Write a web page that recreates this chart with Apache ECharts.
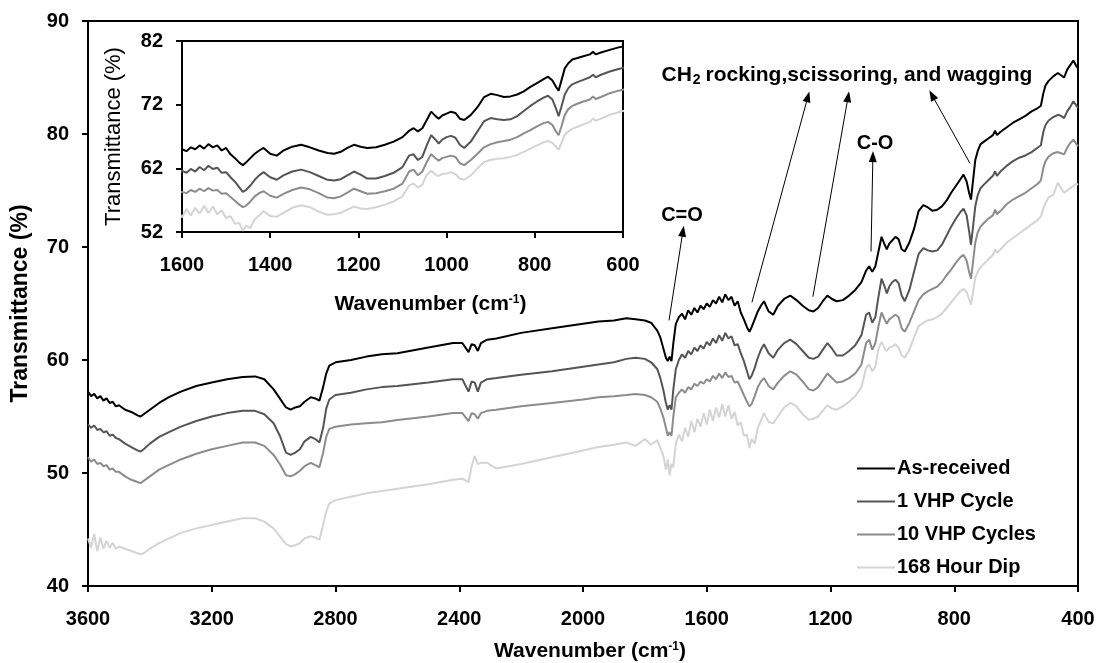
<!DOCTYPE html>
<html>
<head>
<meta charset="utf-8">
<title>FTIR spectra</title>
<script src="https://cdn.jsdelivr.net/npm/echarts@6/dist/echarts.min.js"></script>
<style>
  html, body { margin: 0; padding: 0; background: #fff; }
  #chart { width: 1100px; height: 663px; }
</style>
</head>
<body>
<div id="chart"></div>
<script>
// Wavenumber grid (cm-1), shared by all four spectra
const wavenumbers = [
  3600,3590,3580,3570,3560,3550,3540,3530,3520,3510,
  3500,3480,3460,3440,3430,3420,3400,3370,3340,3300,
  3250,3200,3150,3100,3060,3030,3000,2980,2960,2945,
  2930,2915,2900,2880,2865,2852,2840,2830,2820,2800,
  2750,2700,2650,2600,2500,2420,2390,2370,2360,2350,
  2340,2330,2310,2280,2200,2100,2000,1950,1900,1860,
  1830,1800,1780,1760,1750,1740,1732,1726,1720,1714,
  1708,1700,1690,1680,1670,1660,1650,1640,1630,1620,
  1610,1600,1590,1580,1570,1560,1550,1540,1530,1520,
  1510,1500,1490,1480,1470,1462,1455,1445,1435,1425,
  1415,1400,1385,1370,1350,1330,1310,1290,1270,1255,
  1240,1225,1210,1195,1180,1160,1140,1120,1100,1085,
  1075,1065,1055,1045,1035,1025,1018,1010,1000,990,
  980,970,960,945,930,915,900,885,870,855,
  840,825,810,795,780,770,760,752,746,740,
  732,724,715,705,690,675,668,662,650,630,
  610,590,570,550,530,520,512,505,495,480,
  465,455,445,435,425,415,405,400
];

// Transmittance (%) for each sample
const asReceived = [
  57.2,56.8,57.0,56.6,56.8,56.4,56.6,56.2,56.3,55.9,
  56.0,55.6,55.4,55.1,55.0,55.2,55.6,56.2,56.7,57.2,
  57.7,58.0,58.3,58.5,58.55,58.3,57.4,56.6,55.8,55.6,
  55.8,55.9,56.3,56.7,56.6,56.4,57.6,58.8,59.5,59.8,
  60.0,60.3,60.5,60.6,61.1,61.5,61.5,60.7,61.4,61.3,
  60.8,61.5,61.8,61.9,62.4,62.8,63.2,63.4,63.5,63.7,
  63.6,63.5,63.3,62.6,62.0,61.0,60.2,59.9,60.3,59.9,
  61.5,63.2,63.8,64.1,63.6,64.4,64.0,64.6,64.2,64.8,
  64.5,65.0,64.7,65.3,65.0,65.6,65.1,65.8,65.3,65.6,
  64.8,65.2,64.2,63.6,62.9,62.5,62.9,63.6,64.3,64.8,
  65.2,64.3,64.0,64.8,65.4,65.7,65.3,64.8,64.4,64.3,
  64.6,65.2,65.7,65.4,65.2,65.3,65.7,66.2,66.9,67.9,
  68.3,67.8,68.3,69.6,70.9,70.2,69.8,70.3,70.6,70.9,
  70.7,69.8,69.6,70.4,71.6,73.2,73.7,73.5,73.2,73.3,
  73.6,74.1,74.8,75.4,76.0,76.4,75.8,74.8,74.2,75.7,
  77.7,78.5,79.1,79.3,79.6,79.9,80.3,79.9,80.2,80.6,
  81.0,81.3,81.6,82.0,82.3,82.5,83.6,84.3,84.7,85.1,
  85.4,85.2,85.0,85.7,86.1,86.5,86.0,85.8
];

const vhpCycle1 = [
  54.3,54.0,54.2,53.8,53.9,53.6,53.7,53.3,53.4,53.1,
  53.0,52.6,52.3,52.0,51.9,52.1,52.6,53.2,53.6,54.1,
  54.6,55.0,55.3,55.5,55.5,55.2,54.4,53.3,51.8,51.6,
  51.8,52.1,52.8,53.2,53.0,52.7,54.0,55.7,56.5,56.9,
  57.1,57.4,57.6,57.7,58.0,58.3,58.3,57.2,58.1,58.0,
  57.2,58.0,58.3,58.4,58.7,59.0,59.4,59.6,59.8,60.1,
  60.2,60.1,59.8,59.2,58.4,57.3,56.2,55.6,56.0,55.6,
  57.4,59.2,60.0,60.5,60.2,60.8,60.5,61.1,60.8,61.3,
  61.0,61.6,61.3,61.9,61.5,62.2,61.7,62.4,61.9,62.1,
  61.3,61.4,60.6,59.9,59.0,58.3,58.6,59.3,60.2,60.9,
  61.4,60.6,60.2,60.9,61.5,61.8,61.4,60.8,60.2,60.1,
  60.3,60.9,61.5,61.0,60.4,60.4,60.8,61.3,62.2,64.0,
  64.2,63.3,63.8,65.6,67.2,66.5,65.9,66.5,66.9,67.1,
  66.8,65.7,65.2,66.2,67.8,69.4,69.9,69.7,69.6,69.7,
  70.2,71.0,71.8,72.5,73.1,73.4,72.8,71.4,70.2,71.6,
  73.6,74.6,75.2,75.5,75.9,76.3,76.7,76.3,76.7,77.2,
  77.6,77.9,78.1,78.4,78.8,79.0,80.2,80.8,81.2,81.5,
  81.7,81.6,81.4,82.0,82.4,82.9,82.5,82.3
];

const vhpCycles10 = [
  51.4,51.0,51.2,50.8,50.9,50.6,50.7,50.3,50.4,50.1,
  50.1,49.7,49.4,49.2,49.1,49.3,49.7,50.3,50.7,51.2,
  51.7,52.1,52.4,52.7,52.7,52.4,51.6,50.8,49.8,49.7,
  49.9,50.2,50.6,50.9,50.7,50.5,51.8,53.2,53.9,54.1,
  54.3,54.4,54.5,54.7,55.0,55.3,55.3,54.6,55.3,55.2,
  54.8,55.3,55.5,55.6,55.9,56.2,56.5,56.7,56.8,56.9,
  57.0,56.9,56.7,56.3,55.7,54.9,54.0,53.3,53.6,53.3,
  55.0,56.7,57.1,57.4,57.1,57.6,57.4,57.9,57.7,58.1,
  57.9,58.3,58.1,58.6,58.3,58.8,58.4,58.9,58.5,58.6,
  58.0,58.1,57.5,56.9,56.3,55.9,56.1,56.8,57.6,58.1,
  58.4,57.7,57.4,58.0,58.6,59.0,58.7,58.1,57.4,57.3,
  57.6,58.2,58.8,58.4,58.0,58.1,58.4,58.8,59.6,61.5,
  61.8,60.9,61.5,63.0,64.2,63.6,63.2,63.6,63.8,64.0,
  63.8,62.8,62.5,63.3,64.3,65.3,65.8,66.1,66.3,66.5,
  66.9,67.5,68.0,68.6,69.1,69.3,68.8,67.8,67.2,68.5,
  70.4,71.3,71.8,72.1,72.5,72.8,73.3,72.9,73.2,73.8,
  74.2,74.5,74.8,75.2,75.6,75.9,77.0,77.6,78.0,78.3,
  78.4,78.3,78.2,78.8,79.2,79.5,79.1,78.9
];

const hourDip168 = [
  44.2,43.4,44.6,43.1,44.3,43.3,44.0,43.4,43.8,43.3,
  43.5,43.3,43.1,42.9,42.8,42.9,43.3,43.8,44.2,44.7,
  45.1,45.4,45.7,46.0,46.0,45.7,45.1,44.4,43.7,43.5,
  43.6,43.8,44.2,44.4,44.3,44.1,45.4,46.6,47.3,47.6,
  47.9,48.2,48.4,48.6,49.0,49.4,49.5,49.2,50.6,51.5,
  50.8,50.9,50.9,50.4,50.8,51.4,52.0,52.3,52.5,52.7,
  52.4,53.0,52.5,52.9,52.2,51.5,50.3,51.2,49.8,50.8,
  50.5,52.6,53.4,52.8,54.0,53.2,54.6,53.6,54.8,54.1,
  55.3,54.3,55.6,54.6,55.8,54.9,56.1,55.0,56.0,54.8,
  55.4,54.2,54.5,53.3,53.4,52.2,53.0,52.6,54.0,54.6,
  55.3,54.5,54.4,55.0,55.8,56.2,55.9,55.2,54.7,54.8,
  55.0,55.5,56.0,55.7,55.6,55.9,56.3,56.8,57.6,59.3,
  59.6,59.0,59.4,61.0,61.6,61.0,60.8,61.1,61.2,61.4,
  61.1,60.4,60.2,60.9,62.0,63.0,63.3,63.5,63.6,63.8,
  64.1,64.6,65.1,65.6,66.1,66.3,66.0,65.4,64.9,65.9,
  67.3,67.8,68.2,68.5,68.9,69.3,69.8,69.5,69.8,70.4,
  70.8,71.2,71.6,72.0,72.4,72.7,73.4,73.9,74.4,74.6,
  75.7,75.2,74.8,75.0,75.2,75.4,75.6,75.5
];

const seriesNames = ['As-received', '1 VHP Cycle', '10 VHP Cycles', '168 Hour Dip'];
const seriesValues = [asReceived, vhpCycle1, vhpCycles10, hourDip168];
const seriesColors = ['#000000', '#555555', '#8c8c8c', '#d4d4d4'];

// Axis ranges: full spectrum and the 1600-600 cm-1 detail
const mainX = { min: 400, max: 3600, step: 400 };
const mainY = { min: 40, max: 90, step: 10 };
const insetX = { min: 600, max: 1600, step: 200 };
const insetY = { min: 52, max: 82, step: 10 };

// Band assignments: arrows [from, to] in (wavenumber, transmittance)
const bandArrows = [
  [[1722, 63.5], [1677, 71.4]],
  [[1069, 69.6], [1063, 78.0]],
  [[1454, 65.1], [1273, 83.3]],
  [[1257, 65.6], [1143, 83.3]],
  [[749, 77.4], [872, 83.45]]
];
const bandLabels = [
  { text: 'C=O', at: [1680, 72.8] },
  { text: 'C-O', at: [1056, 79.2] },
  { text: '{t|CH}{s|2}{t|rocking,scissoring, and wagging}', at: [1147, 85.2] }
];

const FONT = '"Liberation Sans", Arial, sans-serif';
const boldText = { fontFamily: FONT, fontWeight: 'bold', fontSize: 20, color: '#000' };

function pairs(values) {
  return wavenumbers.map((w, i) => [w, values[i]]);
}

function makeXAxis(grid, range, gap, namePad) {
  return {
    gridIndex: grid, type: 'value', inverse: true,
    min: range.min, max: range.max, interval: range.step,
    axisLine: { show: true, onZero: false, lineStyle: { color: '#000', width: 2 } },
    axisTick: { show: true, inside: false, length: 6, lineStyle: { color: '#000', width: 2 } },
    axisLabel: Object.assign({ margin: 23, formatter: v => String(v) }, boldText),
    splitLine: { show: false },
    name: '{a|Wavenumber (cm}{s|-1}{a|)}',
    nameLocation: 'middle', nameGap: gap,
    nameTextStyle: {
      padding: [0, 0, 0, namePad],
      rich: {
        a: Object.assign({}, boldText, { fontSize: 21 }),
        s: Object.assign({}, boldText, { fontSize: 12, verticalAlign: 'top', padding: [0, 0, 8, 0] })
      }
    }
  };
}

function makeYAxis(grid, range, gap, nameStyle) {
  return {
    gridIndex: grid, type: 'value',
    min: range.min, max: range.max, interval: range.step,
    axisLine: { show: true, onZero: false, lineStyle: { color: '#000', width: 2 } },
    axisTick: { show: true, inside: false, length: 6, lineStyle: { color: '#000', width: 2 } },
    axisLabel: Object.assign({ margin: 19, formatter: v => String(v) }, boldText),
    splitLine: { show: false },
    name: 'Transmittance (%)',
    nameLocation: 'middle', nameGap: gap,
    nameTextStyle: nameStyle
  };
}

const series = [];
seriesNames.forEach((name, k) => {
  const main = {
    name: name, type: 'line', xAxisIndex: 0, yAxisIndex: 0,
    data: pairs(seriesValues[k]),
    showSymbol: false, symbol: 'none', smooth: false,
    lineStyle: { color: seriesColors[k], width: 2 },
    itemStyle: { color: seriesColors[k] },
    z: 10 - k, silent: true
  };
  if (k === 0) {
    main.markLine = {
      silent: true, animation: false,
      symbol: ['none', 'triangle'], symbolSize: [8, 11],
      lineStyle: { color: '#000', width: 1, type: 'solid' },
      itemStyle: { color: '#000' },
      label: { show: false },
      emphasis: { disabled: true },
      data: bandArrows.map(a => [{ coord: a[0] }, { coord: a[1] }])
    };
    main.markPoint = {
      silent: true, animation: false,
      symbol: 'circle', symbolSize: 0,
      label: {
        show: true, position: 'inside',
        formatter: p => p.name,
        fontFamily: FONT, fontWeight: 'bold', fontSize: 20, color: '#000',
        rich: {
          t: Object.assign({}, boldText, { fontSize: 21 }),
          s: Object.assign({}, boldText, { fontSize: 14, verticalAlign: 'bottom', padding: [10, 5, 0, 1] })
        }
      },
      data: bandLabels.map(l => ({ name: l.text, coord: l.at }))
    };
  }
  series.push(main);
});
seriesNames.forEach((name, k) => {
  series.push({
    name: name, type: 'line', xAxisIndex: 1, yAxisIndex: 1,
    data: pairs(seriesValues[k]),
    showSymbol: false, symbol: 'none', smooth: false, clip: true,
    lineStyle: { color: seriesColors[k], width: 2 },
    itemStyle: { color: seriesColors[k] },
    z: 10 - k, silent: true
  });
});

const chart = echarts.init(document.getElementById('chart'), null, { renderer: 'canvas' });
chart.setOption({
  animation: false,
  backgroundColor: '#fff',
  textStyle: { fontFamily: FONT },
  grid: [
    { left: 88, top: 21, width: 990, height: 565, outerBoundsMode: 'none', containLabel: false,
      show: true, borderColor: '#000', borderWidth: 2, backgroundColor: 'transparent' },
    { left: 182, top: 41, width: 441, height: 191, outerBoundsMode: 'none', containLabel: false,
      show: true, borderColor: '#000', borderWidth: 2, backgroundColor: '#fff' }
  ],
  xAxis: [
    makeXAxis(0, mainX, 55, 14),
    makeXAxis(1, insetX, 62, 56)
  ],
  yAxis: [
    makeYAxis(0, mainY, 56, Object.assign({}, boldText, { fontSize: 23 })),
    makeYAxis(1, insetY, 57, { fontFamily: FONT, fontWeight: 'normal', fontSize: 22, color: '#000' })
  ],
  legend: {
    data: seriesNames,
    orient: 'vertical', left: 852, top: 453,
    icon: 'rect', itemWidth: 38, itemHeight: 2, itemGap: 12,
    textStyle: Object.assign({}, boldText, { padding: [0, 0, 0, -3], lineHeight: 21 }),
    selectedMode: false
  },
  series: series
});
</script>
</body>
</html>
